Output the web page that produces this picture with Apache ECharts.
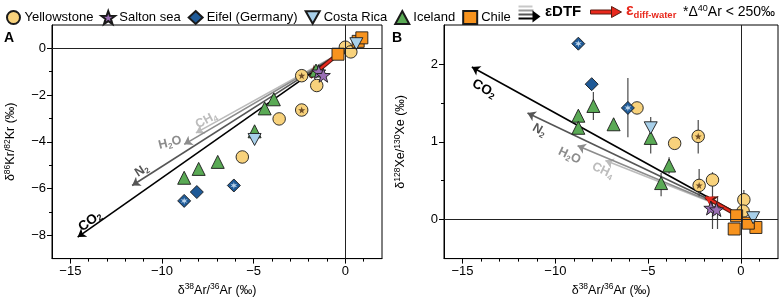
<!DOCTYPE html>
<html><head><meta charset="utf-8">
<script src="https://cdn.jsdelivr.net/npm/echarts@6/dist/echarts.min.js"></script>
<style>html,body{margin:0;padding:0;background:#fff}#c{width:780px;height:302px}</style>
</head><body><div id="c"></div>
<script>
// ---------- Panel A : [δ38Ar/36Ar, δ86Kr/82Kr] ----------
const yellowstoneA = [[0.0,0.05],[0.3,-0.15],[-2.38,-1.17],[-1.56,-1.59],[-2.38,-2.64],[-3.61,-3.02],[-5.62,-4.65]];
const yellowstoneStarA = [[-2.38,-1.17],[-2.38,-2.64]];
const saltonA = [[-1.45,-1.0],[-1.2,-1.15]];
const eifelA = [[-8.79,-6.53],[-8.1,-6.15],[-6.08,-5.87]];
const eifelStarA = [[-8.79,-6.53],[-6.08,-5.87]];
const costaA = [[-4.95,-3.9],[0.6,0.2]];
const icelandA = [[-1.6,-0.95],[-3.9,-2.18],[-4.4,-2.57],[-4.95,-3.55],[-6.96,-4.86],[-8.0,-5.16],[-8.79,-5.54]];
const chileA = [[-0.4,-0.25],[0.7,0.3],[0.9,0.45]];
const arrowStartA = [-0.4,-0.25];
const arrowEndA = [[-14.6,-8.08],[-11.63,-5.87],[-8.79,-4.11],[-8.15,-3.62]];
const arrowLabelA = [[-13.92,-7.41],[-11.1,-5.23],[-9.56,-4.04],[-7.58,-3.07]];
const waterArrowA = [[-0.4,-0.25],[-1.92,-1.23]];

// ---------- Panel B : [δ38Ar/36Ar, δ128Xe/130Xe] ----------
const yellowstoneB = [[-5.6,1.435],[-3.57,0.98],[-2.3,1.07],[-2.25,0.44],[-1.53,0.51],[0.16,0.256],[0.12,0.11]];
const yellowstoneStarB = [[-2.3,1.07],[-2.25,0.44]];
const saltonB = [[-1.62,0.15],[-1.31,0.13]];
const eifelB = [[-8.76,2.26],[-8.04,1.74],[-6.09,1.435]];
const eifelStarB = [[-8.76,2.26],[-6.09,1.435]];
const costaB = [[-4.86,1.18],[0.66,0.025]];
const icelandB = [[-8.76,1.335],[-8.76,1.18],[-7.95,1.46],[-6.86,1.225],[-4.86,1.05],[-3.87,0.695],[-4.3,0.47]];
const chileB = [[-0.23,0.05],[-0.36,-0.12],[0.81,-0.1],[0.4,-0.045]];
// [x, low, high]
const errorB = [[-6.09,1.06,1.82],[-7.95,1.28,1.64],[-6.86,1.15,1.3],[-8.76,1.1,1.25],[-4.86,0.85,1.32],[-2.3,0.85,1.28],[-3.87,0.59,0.8],[-4.3,0.3,0.6],[-2.25,0.3,0.65],[-1.53,-0.12,0.61],[-1.26,-0.12,0.3],[0.16,-0.1,0.38]];
const arrowStartB = [-0.5,0.12];
const arrowEndB = [[-14.5,1.96],[-11.5,1.37],[-8.8,0.95],[-7.3,0.76]];
const arrowLabelB = [[-13.84,1.68],[-10.86,1.15],[-9.24,0.82],[-7.44,0.63]];
const waterArrowB = [[-0.5,0.1],[-1.9,0.29]];

// ---------- ticks ----------
const xTicksMajor = [-15,-10,-5,0];
const xTicksMinor = [-14,-13,-12,-11,-9,-8,-7,-6,-4,-3,-2,-1,1];
const yTicksMajorA = [-8,-6,-4,-2,0];
const yTicksMinorA = [-7,-5,-3,-1];
const yTicksMajorB = [0,1,2];
const yTicksMinorB = [0.5,1.5];

const gasRich = ['{m|CO}{s|2}','{m|N}{s|2}','{m|H}{s|2}{m|O}','{m|CH}{s|4}'];
const gasColors = ['#000000','#555555','#8c8c8c','#bcbcbc'];
const rotA = [36,33,14,28];
const rotB = [-30,-30,-25,-25];

const FONT = 'Liberation Sans';
function starPath(n, outer, inner){
  let s='path://';
  for(let i=0;i<2*n;i++){
    const r = i%2 ? inner : outer;
    const a = -Math.PI/2 + i*Math.PI/n;
    s += (i?'L':'M') + (50+r*Math.cos(a)).toFixed(2)+','+(50+r*Math.sin(a)).toFixed(2);
  }
  return s+'Z';
}
const STAR5 = starPath(5,50,20);
const STAR6 = starPath(6,50,18);
const TRI_DOWN = 'path://M0,0L100,0L50,88Z';
const fmt = v => String(v).replace('-', '\u2212');

const COL = {
  yellow:'#f8d27c', salton:'#9a6fb4', eifel:'#1f5a97', costa:'#a8d0ea', iceland:'#5aaa55', chile:'#f7931e'
};
const border = {borderColor:'#1a1a1a', borderWidth:0.9};
const nameRich = {d:{fontSize:12.5, fontFamily:FONT, color:'#000', lineHeight:16}, p:{fontSize:8.5, fontFamily:FONT, color:'#000', lineHeight:11, verticalAlign:'top'}};

function xAxes(g){
  return [{
    gridIndex:g, type:'value', min:-16, max:2, interval:1,
    axisLine:{onZero:false, lineStyle:{color:'#000', width:1}},
    axisTick:{customValues:xTicksMajor, length:5, lineStyle:{color:'#000'}},
    axisLabel:{customValues:xTicksMajor, formatter:fmt, fontSize:13, color:'#000', fontFamily:FONT, margin:6},
    splitLine:{show:false},
    name:'{d|δ}{p|38}{d|Ar/}{p|36}{d|Ar (‰)}', nameLocation:'middle', nameGap:20,
    nameTextStyle:{rich:nameRich}
  },{
    gridIndex:g, type:'value', min:-16, max:2, interval:1, position:'bottom',
    axisLine:{show:false, onZero:false},
    axisTick:{customValues:xTicksMinor, length:3, lineStyle:{color:'#000'}},
    axisLabel:{show:false}, splitLine:{show:false}
  }];
}
function yAxes(g, min, max, major, minor, name, gap){
  return [{
    gridIndex:g, type:'value', min:min, max:max, interval:(max-min)/10,
    axisLine:{onZero:false, lineStyle:{color:'#000', width:1}},
    axisTick:{customValues:major, length:5, lineStyle:{color:'#000'}},
    axisLabel:{customValues:major, formatter:fmt, fontSize:13, color:'#000', fontFamily:FONT, margin:6},
    splitLine:{show:false},
    name:name, nameLocation:'middle', nameGap:gap, nameRotate:90,
    nameTextStyle:{rich:nameRich}
  },{
    gridIndex:g, type:'value', min:min, max:max, interval:(max-min)/10, position:'left',
    axisLine:{show:false, onZero:false},
    axisTick:{customValues:minor, length:3, lineStyle:{color:'#000'}},
    axisLabel:{show:false}, splitLine:{show:false}
  }];
}

function panelSeries(g, d){
  const xi = g*2, yi = g*2;
  const s = [];
  s.push({type:'scatter', xAxisIndex:xi, yAxisIndex:yi, data:[], silent:true, z:1,
    markLine:{silent:true, symbol:'none', animation:false, label:{show:false},
      lineStyle:{color:'#222', width:1, type:'solid'}, data:[{xAxis:0},{yAxis:0}]}});
  for(let i=3;i>=0;i--){
    s.push({type:'lines', coordinateSystem:'cartesian2d', xAxisIndex:xi, yAxisIndex:yi, z:2,
      symbol:['none','arrow'], symbolSize:8, silent:true,
      lineStyle:{color:gasColors[i], width:1.6, opacity:1},
      data:[{coords:[d.start, d.ends[i]]}]});
  }
  s.push({type:'custom', xAxisIndex:xi, yAxisIndex:yi, z:3, silent:true,
    data:d.labels.map((p,i)=>[p[0],p[1],i]),
    renderItem:(params, api)=>{
      const i = api.value(2);
      const c = api.coord([api.value(0), api.value(1)]);
      const fs = i===0 ? 13.5 : 12.5;
      return {type:'text', x:c[0], y:c[1], rotation:d.rot[i]*Math.PI/180,
        style:{text:gasRich[i], align:'center', verticalAlign:'middle',
          rich:{m:{fontSize:fs, fontWeight:'bold', fill:gasColors[i], fontFamily:FONT, lineHeight:15},
                s:{fontSize:fs*0.65, fontWeight:'bold', fill:gasColors[i], fontFamily:FONT, lineHeight:9, verticalAlign:'bottom'}}}};
    }});
  if(d.err){
    s.push({type:'custom', xAxisIndex:xi, yAxisIndex:yi, z:3, silent:true, data:d.err,
      encode:{x:0, y:[1,2]},
      renderItem:(params, api)=>{
        const x = api.value(0);
        const p1 = api.coord([x, api.value(1)]), p2 = api.coord([x, api.value(2)]);
        return {type:'line', shape:{x1:p1[0],y1:p1[1],x2:p2[0],y2:p2[1]}, style:{stroke:'#4a4a4a', lineWidth:1.2}};
      }});
  }
  const sc = (name, data, symbol, size, color, extra) => Object.assign({
    name, type:'scatter', xAxisIndex:xi, yAxisIndex:yi, data, symbol, symbolSize:size, z:4,
    itemStyle:Object.assign({color, opacity:1}, border)}, extra||{});
  s.push(sc('Yellowstone', d.yel, 'circle', 12.5, COL.yellow));
  s.push(sc('', d.yelStar, STAR5, 7, '#4a2a10', {itemStyle:{color:'#4a2a10'}, silent:true}));
  s.push(sc('Iceland', d.ice, 'triangle', 13, COL.iceland));
  s.push(sc('Eifel (Germany)', d.eif, 'diamond', 13, COL.eifel));
  s.push(sc('', d.eifStar, STAR6, 7, '#e4f2ff', {itemStyle:{color:'#e4f2ff'}, silent:true}));
  s.push(sc('Salton sea', d.sal, STAR5, 14, COL.salton));
  s.push({type:'lines', coordinateSystem:'cartesian2d', xAxisIndex:xi, yAxisIndex:yi, z:4,
    symbol:['none','arrow'], symbolSize:11, silent:true,
    lineStyle:{color:'#5a1a10', width:4.2, opacity:1}, data:[{coords:d.water}]});
  s.push({type:'lines', coordinateSystem:'cartesian2d', xAxisIndex:xi, yAxisIndex:yi, z:4,
    symbol:['none','arrow'], symbolSize:8, silent:true,
    lineStyle:{color:'#e8281c', width:2.2, opacity:1}, data:[{coords:d.water}]});
  s.push(sc('Chile', d.chi, 'rect', 12, COL.chile));
  s.push(sc('Costa Rica', d.cos, TRI_DOWN, [13,12], COL.costa));
  return s;
}

const chart = echarts.init(document.getElementById('c'), null, {renderer:'canvas'});
const series = [].concat(
  panelSeries(0, {start:arrowStartA, ends:arrowEndA, labels:arrowLabelA, rot:rotA, water:waterArrowA,
    yel:yellowstoneA, yelStar:yellowstoneStarA, ice:icelandA, eif:eifelA, eifStar:eifelStarA, sal:saltonA, chi:chileA, cos:costaA}),
  panelSeries(1, {start:arrowStartB, ends:arrowEndB, labels:arrowLabelB, rot:rotB, water:waterArrowB, err:errorB,
    yel:yellowstoneB, yelStar:yellowstoneStarB, ice:icelandB, eif:eifelB, eifStar:eifelStarB, sal:saltonB, chi:chileB, cos:costaB})
);

chart.setOption({
  animation:false,
  backgroundColor:'#fff',
  textStyle:{fontFamily:FONT},
  legend:{
    data:['Yellowstone','Salton sea','Eifel (Germany)','Costa Rica','Iceland','Chile'],
    left:1, top:5, itemWidth:14, itemHeight:13, itemGap:7, selectedMode:false,
    textStyle:{fontSize:13, color:'#000', fontFamily:FONT, padding:[0,0,0,-1]}
  },
  grid:[
    {left:52, right:398, top:25, bottom:39, show:true, borderColor:'#000', borderWidth:1, backgroundColor:'transparent'},
    {left:444, right:2, top:25, bottom:38, show:true, borderColor:'#000', borderWidth:1, backgroundColor:'transparent'}
  ],
  xAxis:[].concat(xAxes(0), xAxes(1)),
  yAxis:[].concat(
    yAxes(0, -9, 1, yTicksMajorA, yTicksMinorA, '{d|δ}{p|86}{d|Kr/}{p|82}{d|Kr (‰)}', 33),
    yAxes(1, -0.5, 2.5, yTicksMajorB, yTicksMinorB, '{d|δ}{p|128}{d|Xe/}{p|130}{d|Xe (‰)}', 35)
  ),
  graphic:[
    {type:'text', left:4, top:31, style:{text:'A', font:'bold 14px '+FONT, fill:'#000'}},
    {type:'text', left:392, top:31, style:{text:'B', font:'bold 14px '+FONT, fill:'#000'}},
    {type:'group', left:516, top:4, children:[
      {type:'line', shape:{x1:0,y1:2,x2:14,y2:2}, style:{stroke:'#c8c8c8', lineWidth:2}},
      {type:'line', shape:{x1:0,y1:6,x2:15,y2:6}, style:{stroke:'#999', lineWidth:2}},
      {type:'line', shape:{x1:0,y1:10,x2:16,y2:10}, style:{stroke:'#555', lineWidth:2}},
      {type:'line', shape:{x1:0,y1:14,x2:16,y2:14}, style:{stroke:'#000', lineWidth:2}},
      {type:'polygon', shape:{points:[[14,6],[22,12],[14,18]]}, style:{fill:'#000'}}
    ]},
    {type:'text', left:545, top:4, style:{text:'εDTF', font:'bold 15px '+FONT, fill:'#000'}},
    {type:'group', left:590, top:6, children:[
      {type:'rect', shape:{x:0,y:3.5,width:22,height:4}, style:{fill:'#e8281c', stroke:'#5a1a10', lineWidth:1}},
      {type:'polygon', shape:{points:[[21,0],[31,5.5],[21,11]]}, style:{fill:'#e8281c', stroke:'#5a1a10', lineWidth:1}}
    ]},
    {type:'text', left:626, top:3, style:{text:'{e|ε}{s|diff-water}',
      rich:{e:{fontSize:16, fontWeight:'bold', fill:'#e8281c', fontFamily:FONT, lineHeight:18},
            s:{fontSize:9.5, fontWeight:'bold', fill:'#e8281c', fontFamily:FONT, lineHeight:12, verticalAlign:'bottom'}}}},
    {type:'text', left:683, top:4, style:{text:'{n|*Δ}{p|40}{n|Ar < 250‰}',
      rich:{n:{fontSize:14, fill:'#000', fontFamily:FONT, lineHeight:16},
            p:{fontSize:9, fill:'#000', fontFamily:FONT, lineHeight:11, verticalAlign:'top'}}}}
  ],
  series:series
});
</script>
</body></html>
